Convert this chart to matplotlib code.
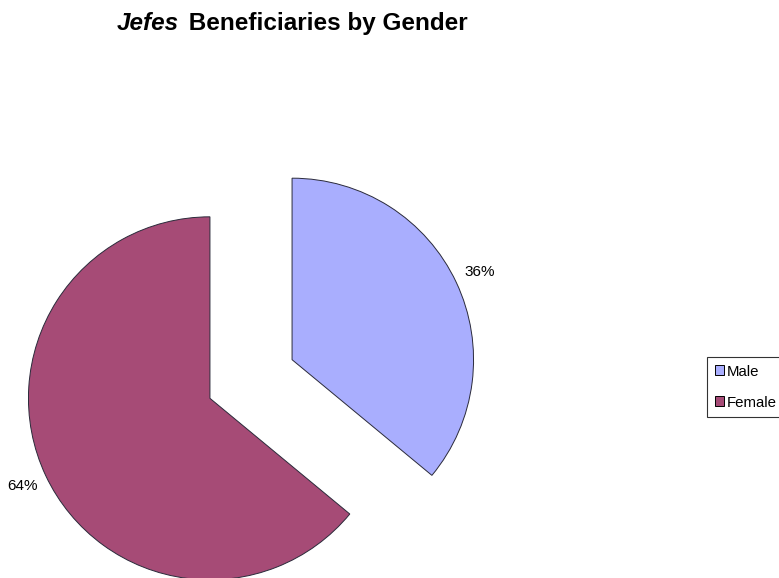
import matplotlib.pyplot as plt
from matplotlib.patches import Patch

# Data
genders = ["Male", "Female"]
shares = [36, 64]
colors = ["#A9AEFE", "#A64B76"]

plt.rcParams["font.family"] = ["Liberation Sans", "DejaVu Sans"]

fig = plt.figure(figsize=(7.79, 5.78), dpi=100)
ax = fig.add_axes([0, 0, 1, 1])

r = 181.5
wedges, texts, autotexts = ax.pie(
    shares,
    colors=colors,
    startangle=90,
    counterclock=False,
    explode=[0.25 * r, 0.25 * r],   # explode is absolute, not relative to radius
    radius=r,
    center=(251, 578 - 379),
    autopct="%d%%",
    pctdistance=1.14,
    wedgeprops=dict(edgecolor="#2a2a3a", linewidth=0.7),
    textprops=dict(fontsize=11, color="black"),
    frame=True,
)

ax.set_xlim(0, 779)
ax.set_ylim(0, 578)
ax.set_aspect("equal")
ax.axis("off")

# Title: italic "Jefes" followed by bold rest
t1 = ax.text(117, 578 - 30, "Jefes", fontsize=17.5, fontweight="bold",
             fontstyle="italic", ha="left", va="baseline")
ax.annotate(" Beneficiaries by Gender", xy=(1, 0), xycoords=t1,
            xytext=(2, 0), textcoords="offset points",
            fontsize=17.5, fontweight="bold", ha="left", va="bottom")

handles = [Patch(facecolor=c, edgecolor="black", linewidth=0.7) for c in colors]
leg = ax.legend(handles, genders, loc="upper left",
                bbox_to_anchor=(707 / 779, 1 - 357 / 578),
                frameon=True, fancybox=False, fontsize=10.8,
                handlelength=0.65, handleheight=0.65, handletextpad=0.2,
                labelspacing=1.15, borderpad=0.5, borderaxespad=0)
leg.get_frame().set_edgecolor("black")
leg.get_frame().set_linewidth(0.8)

fig.savefig("out.png", dpi=100)
